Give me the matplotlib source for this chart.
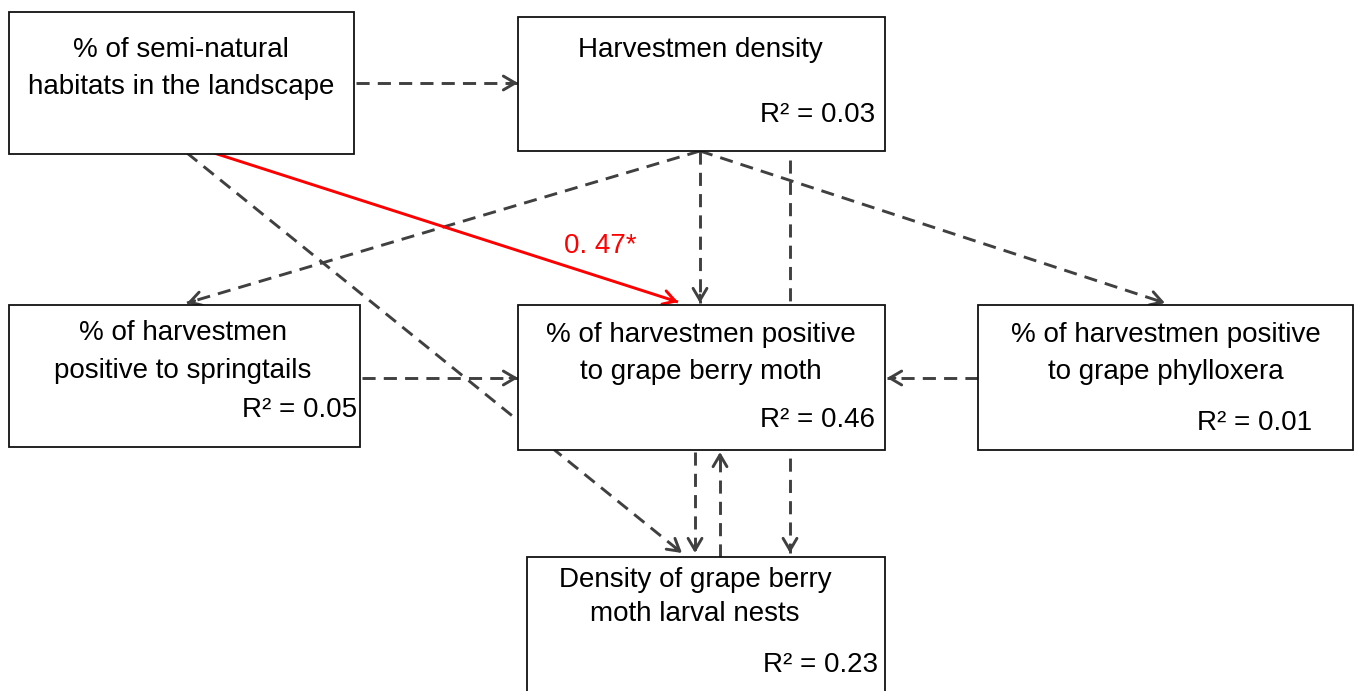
import matplotlib
matplotlib.use("Agg")
import matplotlib.pyplot as plt
from matplotlib.patches import Rectangle

plt.rcParams['font.family'] = ['Liberation Sans', 'DejaVu Sans']

# node labels and R2 values
labels = {
    'land': ['% of semi-natural', 'habitats in the landscape'],
    'dens': ['Harvestmen density'],
    'spring': ['% of harvestmen', 'positive to springtails'],
    'moth': ['% of harvestmen positive', 'to grape berry moth'],
    'phyl': ['% of harvestmen positive', 'to grape phylloxera'],
    'nests': ['Density of grape berry', 'moth larval nests'],
}
r2 = {'dens': 0.03, 'spring': 0.05, 'moth': 0.46, 'phyl': 0.01, 'nests': 0.23}
sig_coef = 0.47

# layout in pixels: x0, y0, x1, y1
boxes = {
    'land': (9, 12, 354, 154),
    'dens': (518, 17, 885, 151),
    'spring': (9, 305, 360, 447),
    'moth': (518, 305, 885, 450),
    'phyl': (978, 305, 1353, 450),
    'nests': (527, 557, 885, 705),
}
text_pos = {
    'land': (181, 50, 37),
    'dens': (700, 50, 37),
    'spring': (183, 333, 38),
    'moth': (701, 335, 37),
    'phyl': (1166, 335, 37),
    'nests': (695, 580, 34),
}
r2_pos = {
    'dens': (875, 115),
    'spring': (357, 410),
    'moth': (875, 420),
    'phyl': (1312, 423),
    'nests': (878, 665),
}
# dashed (non-significant) paths: start, end
dashed = [
    ((356, 83), (518, 83)),
    ((187, 153), (682, 553)),
    ((700, 151), (187, 303)),
    ((700, 151), (700, 303)),
    ((700, 151), (1165, 303)),
    ((790, 160), (790, 553)),
    ((362, 378), (518, 378)),
    ((978, 378), (887, 378)),
    ((695, 452), (695, 553)),
    ((720, 557), (720, 452)),
]
red_path = ((214, 153), (678, 302))

W, H = 1358, 691
fig = plt.figure(figsize=(W / 100, H / 100), dpi=100)
ax = fig.add_axes([0, 0, 1, 1])
ax.set_xlim(0, W)
ax.set_ylim(H, 0)
ax.axis('off')

grey = '#404040'
fs = 20


def arrow(p0, p1, color, dash):
    ls = (0, (4.5, 2.8)) if dash else '-'
    ax.plot([p0[0], p1[0]], [p0[1], p1[1]], color=color, lw=2.1,
            linestyle=ls, zorder=1, solid_capstyle='butt')
    dx, dy = p1[0] - p0[0], p1[1] - p0[1]
    d = (dx ** 2 + dy ** 2) ** 0.5
    back = (p1[0] - dx / d * 8, p1[1] - dy / d * 8)
    ax.annotate('', xy=p1, xytext=back,
                arrowprops=dict(arrowstyle='->,head_length=0.85,head_width=0.5',
                                color=color, lw=2.1, shrinkA=0, shrinkB=0),
                zorder=1)


for p0, p1 in dashed:
    arrow(p0, p1, grey, True)
arrow(red_path[0], red_path[1], '#ff0000', False)
ax.text(600, 246, f'{sig_coef:.2f}*'.replace('.', '. '), color='#ff0000',
        fontsize=fs, ha='center', va='center', zorder=3)

for k, (x0, y0, x1, y1) in boxes.items():
    ax.add_patch(Rectangle((x0, y0), x1 - x0, y1 - y0, facecolor='white',
                           edgecolor='#111111', lw=1.3, zorder=2))
    cx, cy, step = text_pos[k]
    for i, line in enumerate(labels[k]):
        ax.text(cx, cy + i * step, line, fontsize=fs, ha='center', va='center',
                color='black', zorder=3)
    if k in r2:
        rx, ry = r2_pos[k]
        ax.text(rx, ry, f'R\u00b2 = {r2[k]:.2f}', fontsize=fs, ha='right',
                va='center', color='black', zorder=3)

fig.savefig('out.png', dpi=100)
